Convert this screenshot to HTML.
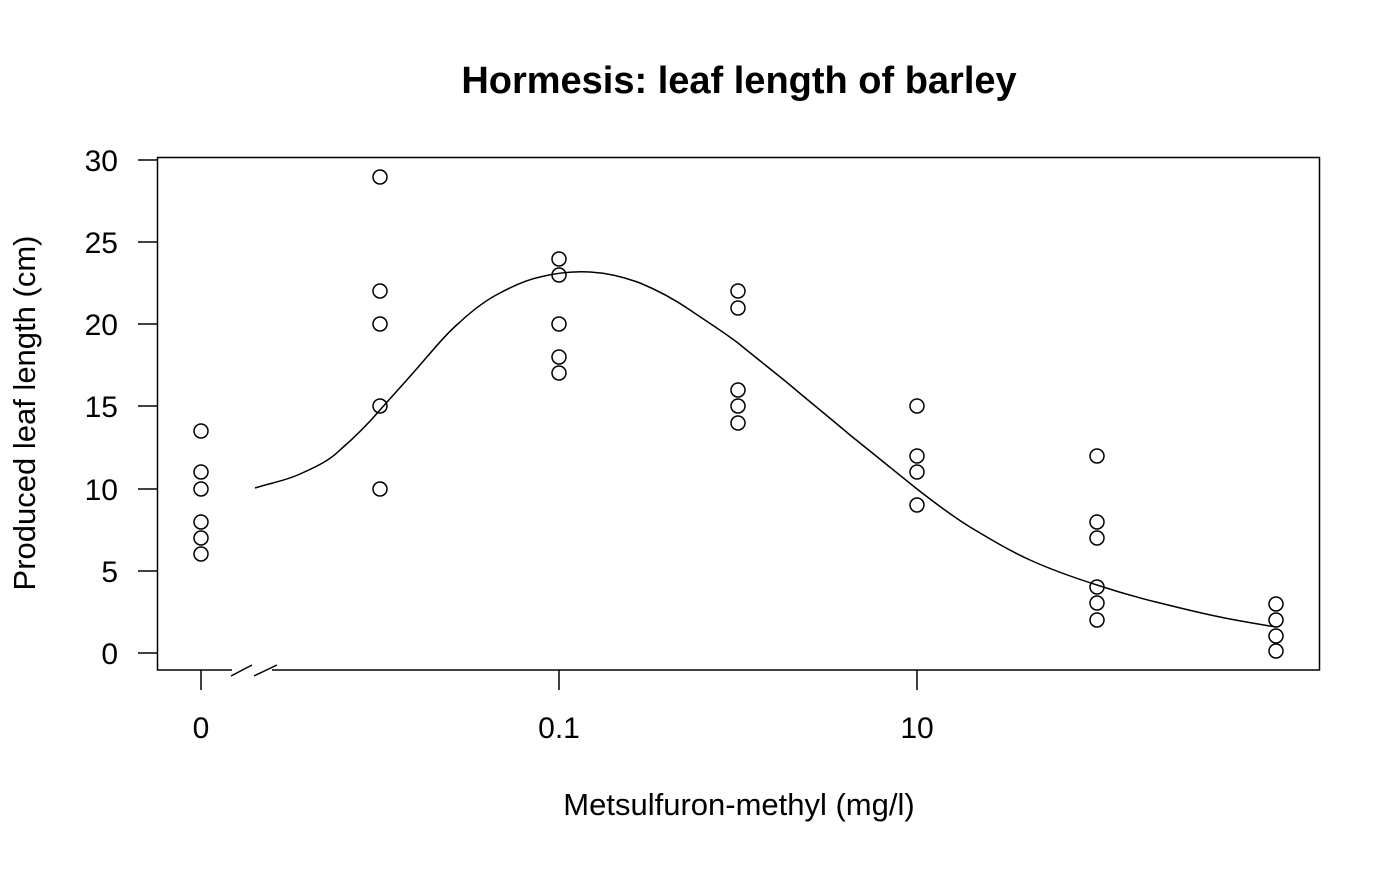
<!DOCTYPE html>
<html><head><style>body{margin:0;background:#fff}</style></head><body>
<svg width="1400" height="866" viewBox="0 0 1400 866" xmlns="http://www.w3.org/2000/svg" font-family="Liberation Sans, Arial, sans-serif">
<rect width="1400" height="866" fill="#fff"/>
<text x="739" y="93" text-anchor="middle" font-size="38" font-weight="bold">Hormesis: leaf length of barley</text>
<rect x="157.5" y="157.5" width="1162" height="512.5" fill="none" stroke="#000" stroke-width="1.5"/>
<rect x="232" y="665" width="40" height="10" fill="#fff"/>
<path d="M231,676 L252,665 M254,676 L277,665" stroke="#000" stroke-width="1.5"/>
<g stroke="#000" stroke-width="1.5">
<path d="M158,653H138M158,571H138M158,489H138M158,406H138M158,324H138M158,242H138M158,160H138"/>
<path d="M201,670V690M559,670V690M917,670V690"/>
</g>
<g font-size="30" text-anchor="end">
<text x="118" y="664">0</text><text x="118" y="582">5</text><text x="118" y="500">10</text><text x="118" y="417">15</text><text x="118" y="335">20</text><text x="118" y="253">25</text><text x="118" y="171">30</text>
</g>
<g font-size="30" text-anchor="middle">
<text x="201" y="738">0</text><text x="559" y="738">0.1</text><text x="917" y="738">10</text>
</g>
<g font-size="31" text-anchor="middle">
<text x="739" y="815">Metsulfuron-methyl (mg/l)</text>
<text transform="translate(35,413) rotate(-90)">Produced leaf length (cm)</text>
</g>
<path id="curve" fill="none" stroke="#000" stroke-width="1.5" d="M255,488 C270,483 285,481 300,474 C318,466 330,460 340,450 C355,437 368,424 380,410 C395,393 407,380 420,365 C433,350 446,334 460,322 C473,310 486,300 500,293 C513,286 526,280 540,277 C556,273 573,271 590,272 C607,273 624,277 640,283 C657,290 674,299 690,310 C706,321 722,331 738,343 C755,357 773,371 790,385 C810,402 830,418 850,435 C872,453 895,471 917,489 C935,503 952,516 970,527 C990,539 1010,551 1030,560 C1052,570 1075,578 1097,585 C1118,592 1139,598 1160,603 C1180,608 1200,613 1220,617 C1239,621 1258,624 1276,627"/>
<g fill="none" stroke="#000" stroke-width="1.5">
<g transform="translate(201,0)"><circle cy="431" r="7"/><circle cy="472" r="7"/><circle cy="489" r="7"/><circle cy="522" r="7"/><circle cy="538" r="7"/><circle cy="554" r="7"/></g>
<g transform="translate(380,0)"><circle cy="177" r="7"/><circle cy="291" r="7"/><circle cy="324" r="7"/><circle cy="406" r="7"/><circle cy="489" r="7"/></g>
<g transform="translate(559,0)"><circle cy="259" r="7"/><circle cy="275" r="7"/><circle cy="324" r="7"/><circle cy="357" r="7"/><circle cy="373" r="7"/></g>
<g transform="translate(738,0)"><circle cy="291" r="7"/><circle cy="308" r="7"/><circle cy="390" r="7"/><circle cy="406" r="7"/><circle cy="423" r="7"/></g>
<g transform="translate(917,0)"><circle cy="406" r="7"/><circle cy="456" r="7"/><circle cy="472" r="7"/><circle cy="505" r="7"/></g>
<g transform="translate(1097,0)"><circle cy="456" r="7"/><circle cy="522" r="7"/><circle cy="538" r="7"/><circle cy="587" r="7"/><circle cy="603" r="7"/><circle cy="620" r="7"/></g>
<g transform="translate(1276,0)"><circle cy="604" r="7"/><circle cy="620" r="7"/><circle cy="636" r="7"/><circle cy="651" r="7"/></g>
</g>
</svg>
</body></html>
